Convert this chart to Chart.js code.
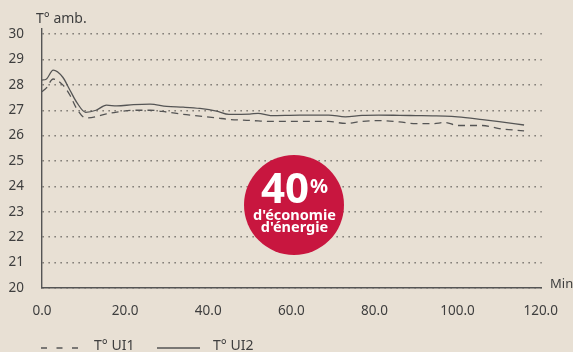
<!DOCTYPE html>
<html>
<head>
<meta charset="utf-8">
<script src="https://cdn.jsdelivr.net/npm/chart.js@4"></script>
<style>
  html, body { margin: 0; padding: 0; background: #e8e0d4; }
  #wrap { width: 573px; height: 352px; position: relative; }
</style>
</head>
<body>
<div id="wrap"><canvas id="tempChart" width="573" height="352"></canvas></div>
<script>
// time in minutes
const minutes = [0, 1, 2.7, 5, 6.7, 8.4, 10.5, 13, 15.5, 18, 22, 26, 30, 34, 38, 42, 45, 50, 52, 55, 62, 69, 73, 77, 81, 86, 90, 94, 97, 100, 106, 110, 116];

// room temperature, unit 1 (dashed)
const tempUI1 = [27.73, 27.87, 28.23, 28.0, 27.6, 27.05, 26.7, 26.75, 26.86, 26.93, 27.0, 27.0, 26.93, 26.84, 26.77, 26.7, 26.64, 26.6, 26.58, 26.56, 26.56, 26.56, 26.48, 26.56, 26.59, 26.54, 26.47, 26.47, 26.52, 26.4, 26.4, 26.28, 26.19];

// room temperature, unit 2 (solid)
const tempUI2 = [28.19, 28.22, 28.58, 28.3, 27.8, 27.3, 26.92, 27.0, 27.2, 27.17, 27.22, 27.24, 27.15, 27.12, 27.07, 26.97, 26.84, 26.85, 26.88, 26.79, 26.81, 26.81, 26.74, 26.8, 26.81, 26.8, 26.79, 26.78, 26.77, 26.74, 26.63, 26.55, 26.42];

const xTicks = [0, 20, 40, 60, 80, 100, 120];
const yTicks = [20, 21, 22, 23, 24, 25, 26, 27, 28, 29, 30];

const seriesNames = ['T° UI1', 'T° UI2'];
const FONT = '"Noto Sans", sans-serif';
const INK = '#3e3e3e';
const LINE = '#555';

const toPoints = (vals) => vals.map((v, i) => ({ x: minutes[i], y: v }));

// axis titles, legend and the savings badge
const extras = {
  id: 'extras',
  afterDraw(chart) {
    const ctx = chart.ctx;
    ctx.save();
    ctx.fillStyle = INK;
    ctx.font = '14px ' + FONT;
    ctx.textBaseline = 'alphabetic';
    ctx.textAlign = 'left';
    ctx.fillText('T° amb.', 36, 23);
    ctx.font = '13px ' + FONT;
    ctx.fillText('Min', 550, 288);
    ctx.font = '14px ' + FONT;

    // legend
    ctx.strokeStyle = LINE;
    ctx.lineWidth = 1.3;
    ctx.setLineDash([6, 9.5]);
    ctx.beginPath(); ctx.moveTo(41, 348); ctx.lineTo(79, 348); ctx.stroke();
    ctx.setLineDash([]);
    ctx.beginPath(); ctx.moveTo(157, 348); ctx.lineTo(200, 348); ctx.stroke();
    ctx.fillText(seriesNames[0], 94, 350);
    ctx.fillText(seriesNames[1], 213, 350);

    // badge
    ctx.fillStyle = '#c8163f';
    ctx.beginPath();
    ctx.arc(294, 205, 50, 0, Math.PI * 2);
    ctx.fill();
    ctx.fillStyle = '#ffffff';
    ctx.font = 'bold 42px ' + FONT;
    ctx.textAlign = 'right';
    ctx.fillText('40', 309, 203);
    ctx.font = 'bold 20px ' + FONT;
    ctx.textAlign = 'left';
    ctx.fillText('%', 310, 193);
    ctx.font = 'bold 14.5px ' + FONT;
    ctx.textAlign = 'center';
    ctx.fillText("d'économie", 294.5, 220);
    ctx.fillText("d'énergie", 294.5, 232);
    ctx.restore();
  }
};

new Chart(document.getElementById('tempChart'), {
  type: 'line',
  data: {
    datasets: [
      {
        label: seriesNames[0],
        data: toPoints(tempUI1),
        borderColor: LINE,
        borderWidth: 1.3,
        borderDash: [7, 5],
        pointRadius: 0,
        cubicInterpolationMode: 'monotone',
        fill: false
      },
      {
        label: seriesNames[1],
        data: toPoints(tempUI2),
        borderColor: LINE,
        borderWidth: 1.3,
        pointRadius: 0,
        cubicInterpolationMode: 'monotone',
        fill: false
      }
    ]
  },
  options: {
    responsive: false,
    animation: false,
    layout: { padding: { top: 29, right: 30, left: 0, bottom: 0 } },
    plugins: {
      legend: { display: false },
      tooltip: { enabled: false }
    },
    scales: {
      x: {
        type: 'linear',
        min: 0,
        max: 120.25,
        grid: { display: false, drawTicks: false },
        border: { display: true, color: LINE, width: 1.4 },
        ticks: {
          includeBounds: false,
          padding: 15,
          color: INK,
          font: { family: FONT, size: 13.5 },
          maxRotation: 0,
          callback: (v) => Number(v).toFixed(1)
        },
        afterBuildTicks: (scale) => { scale.ticks = xTicks.map(v => ({ value: v })); },
        afterFit: (scale) => { scale.height = 64; }
      },
      y: {
        min: 20,
        max: 30.2,
        grid: { color: '#7a7670', lineWidth: 1.5, drawTicks: false },
        border: { display: true, color: LINE, width: 1.4, dash: [1.5, 4.5] },
        ticks: {
          includeBounds: false,
          padding: 18,
          color: INK,
          font: { family: FONT, size: 13.5 }
        },
        afterBuildTicks: (scale) => { scale.ticks = yTicks.map(v => ({ value: v })); },
        afterFit: (scale) => { scale.height = undefined; scale.width = 42; }
      }
    }
  },
  plugins: [extras]
});
</script>
</body>
</html>
